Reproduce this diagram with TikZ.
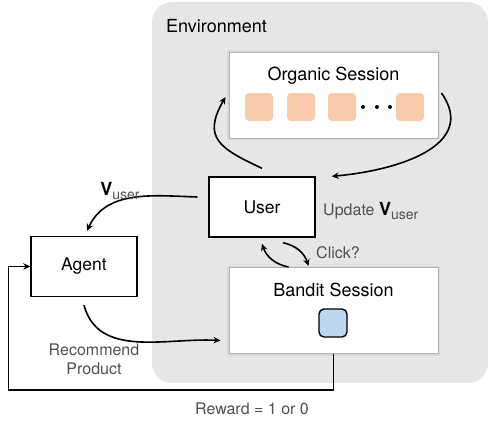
\documentclass[tikz,border=0pt]{standalone}
\usepackage{fontspec}
\setmainfont{TeX Gyre Heros}
\usepackage{xcolor}
\definecolor{EnvFill}{RGB}{230,230,230}
\definecolor{ItemOrange}{RGB}{248,203,173}
\definecolor{ItemBlue}{RGB}{189,215,238}
\definecolor{LabelGray}{RGB}{80,80,80}
\usepackage{tikz}
\usetikzlibrary{positioning,arrows.meta,calc}
\newcommand{\Vuser}{{\color{black}\fontsize{18}{20}\selectfont\bfseries V}\raisebox{-3.5pt}{\fontsize{14}{15}\selectfont user}}
\tikzset{
  % Plain box (user, agent)
  box/.style={
    draw=black,
    fill=white,
    line width=1.4pt,
    minimum width=106pt,
    minimum height=60pt,
    inner sep=0pt,
    font=\fontsize{17.5}{20}\selectfont
  },
  % Session box with a soft edge
  sbox/.style={
    draw=gray!60,
    fill=white,
    line width=1pt,
    minimum width=209pt,
    minimum height=86pt,
    inner sep=0pt,
    preaction={draw=gray!30, line width=4pt}
  },
  % Titles
  stitle/.style={font=\fontsize{18}{20}\selectfont, inner sep=0pt},
  % Product items
  oitem/.style={fill=ItemOrange, rounded corners=4pt, minimum size=28pt, inner sep=0pt},
  bitem/.style={draw=black, line width=1.4pt, fill=ItemBlue, rounded corners=5pt, minimum size=28pt, inner sep=0pt},
  dot/.style={circle, fill=black, minimum size=4pt, inner sep=0pt},
  % Directed edge
  flow/.style={
    draw=black,
    line width=1.6pt,
    -{Stealth[length=7pt,width=6.5pt]}
  },
  % Edge label
  elabel/.style={
    font=\fontsize{16}{19}\selectfont,
    text=LabelGray,
    inner sep=0pt
  }
}
\begin{document}
\begin{tikzpicture}[x=1pt, y=-1pt]
  \useasboundingbox (0,0) rectangle (490,421);
  % Environment
  \fill[EnvFill, rounded corners=20pt] (152,2) rectangle (488,383);
  \node[stitle, anchor=west] (env) at (166,26) {Environment};
  % Organic session
  \node[sbox] (organic) at (333.5,95) {};
  \node[stitle, anchor=base] (otitle) at (333.5,80) {Organic Session};
  \foreach \x [count=\i] in {259,301,342,410} {
    \node[oitem] (o\i) at (\x,107) {};
  }
  \foreach \x [count=\i] in {363,377,390} {
    \node[dot] (d\i) at (\x,107) {};
  }
  % Bandit session
  \node[sbox] (bandit) at (333.5,310.5) {};
  \node[stitle, anchor=base] (btitle) at (333.5,296) {Bandit Session};
  \node[bitem] (b1) at (333,323) {};
  % User and agent
  \node[box] (user) at (262,207) {User};
  \node[box] (agent) at (84,266.5) {Agent};
  % Edges
  \draw[flow] ([yshift=8pt]user.north) to[out=155,in=-120,looseness=1.5] ([xshift=-3pt,yshift=-2pt]organic.west);
  \draw[flow] ([xshift=3pt,yshift=2pt]organic.east) to[out=-55,in=5,looseness=1.2] ([xshift=16pt]user.north east);
  \draw[flow] ([xshift=-11pt,yshift=10pt]user.west) to[out=178,in=65] ([xshift=3pt,yshift=5pt]agent.north);
  \draw[flow] ([yshift=-8pt]agent.south) to[out=-75,in=177] ([xshift=-8pt,yshift=-30pt]bandit.west);
  \draw[flow] (bandit.south) -- ++(0,36) -| ([xshift=-22pt]agent.west) -- (agent.west);
  \draw[flow] ([xshift=-45pt]bandit.north) to[bend left=30] ([yshift=-6pt]user.south);
  \draw[flow] ([xshift=21pt,yshift=-5pt]user.south) to[bend left=30] ([xshift=-25pt,yshift=1pt]bandit.north);
  % Labels
  \node[elabel] (vlab) at (120,191) {\Vuser};
  \node[elabel, anchor=west] (upd) at (323,211) {Update \Vuser};
  \node[elabel, anchor=west] (click) at (316,253) {Click?};
  \node[elabel, align=center] (rec) at (94,359) {Recommend\\Product};
  \node[elabel] (rew) at (252,409) {Reward = 1 or 0};
\end{tikzpicture}
\end{document}
